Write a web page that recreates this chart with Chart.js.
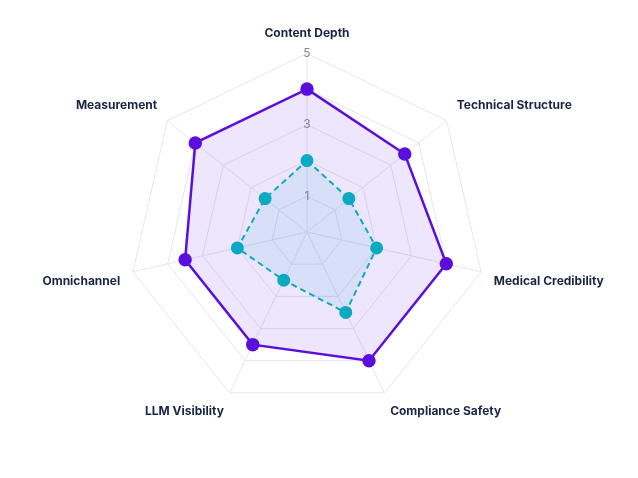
<!DOCTYPE html>
<html>
<head>
<meta charset="utf-8">
<script src="https://cdn.jsdelivr.net/npm/chart.js@4.4.0/dist/chart.umd.min.js"></script>
<style>
  html, body { margin: 0; padding: 0; background: #fff; }
  #wrap { width: 638px; height: 478px; }
</style>
</head>
<body>
<div id="wrap"><canvas id="radar"></canvas></div>
<script>
const labels = ['Content Depth', 'Technical Structure', 'Medical Credibility', 'Compliance Safety', 'LLM Visibility', 'Omnichannel', 'Measurement'];
const targetScores = [4, 3.5, 4, 4, 3.5, 3.5, 4];
const currentScores = [2, 1.5, 2, 2.5, 1.5, 2, 1.5];

const ctx = document.getElementById('radar').getContext('2d');
const chart = new Chart(ctx, {
  type: 'radar',
  data: {
    labels: labels,
    datasets: [
      {
        label: 'Target',
        data: targetScores,
        order: 2,
        borderColor: '#5b0fdc',
        backgroundColor: 'rgba(124, 58, 237, 0.13)',
        borderWidth: 2.5,
        pointBackgroundColor: '#5b0fdc',
        pointBorderColor: '#5b0fdc',
        pointRadius: 5.5,
        fill: true
      },
      {
        label: 'Current',
        data: currentScores,
        order: 1,
        borderColor: '#0aaac2',
        backgroundColor: 'rgba(10, 170, 194, 0.1)',
        borderWidth: 2,
        borderDash: [6, 4],
        pointBackgroundColor: '#0aaac2',
        pointBorderColor: '#0aaac2',
        pointRadius: 5.5,
        fill: true
      }
    ]
  },
  options: {
    responsive: true,
    maintainAspectRatio: false,
    animation: false,
    layout: { padding: { top: 17, bottom: 49, left: 10, right: 20 } },
    plugins: { legend: { display: false }, tooltip: { enabled: false } },
    scales: {
      r: {
        min: 0,
        max: 5,
        angleLines: { color: '#e6e6e6' },
        grid: { color: '#e6e6e6' },
        ticks: {
          stepSize: 1,
          showLabelBackdrop: false,
          color: '#8a8a8a',
          font: { family: 'Inter', size: 12 },
          callback: v => (v % 2 === 1 ? v : '')
        },
        pointLabels: {
          color: '#1b2545',
          font: { family: 'Inter', size: 12, weight: 'bold' }
        }
      }
    }
  }
});
</script>
</body>
</html>
